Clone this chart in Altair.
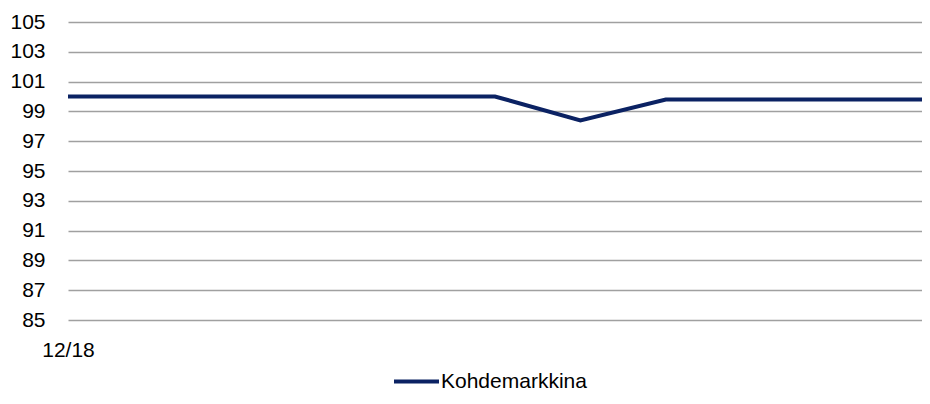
import altair as alt
import pandas as pd

months = ["12/18", "1/19", "2/19", "3/19", "4/19", "5/19", "6/19", "7/19", "8/19", "9/19", "10/19"]
values = [100.0, 100.0, 100.0, 100.0, 100.0, 100.0, 98.4, 99.8, 99.8, 99.8, 99.8]
series = ["Kohdemarkkina"] * len(months)
y_ticks = [85, 87, 89, 91, 93, 95, 97, 99, 101, 103, 105]

df = pd.DataFrame({"month": months, "value": values, "series": series})

FONT = "Liberation Sans, Arial, sans-serif"

chart = alt.Chart(df).mark_line(strokeWidth=4, color="#0b2263").encode(
    x=alt.X("month:O", sort=months,
            scale=alt.Scale(type="point", padding=0),
            axis=alt.Axis(values=["12/18"], title=None, labelAngle=0, ticks=False,
                          domain=False, grid=False, labelPadding=19,
                          labelFontSize=21, labelFont=FONT, labelColor="#000")),
    y=alt.Y("value:Q", scale=alt.Scale(domain=[85, 105], nice=False, zero=False),
            axis=alt.Axis(values=y_ticks, title=None, ticks=False, domain=False,
                          labelPadding=23, labelFontSize=21, labelFont=FONT,
                          labelColor="#000", grid=True, gridColor="#a0a0a0",
                          gridWidth=1.5)),
    color=alt.Color("series:N", scale=alt.Scale(range=["#0b2263"]),
                    legend=alt.Legend(title=None, orient="none", legendX=324, legendY=335,
                                      symbolType="stroke", symbolSize=2025,
                                      symbolStrokeWidth=4, labelFontSize=21,
                                      labelFont=FONT, labelColor="#000",
                                      labelOffset=0)),
).properties(
    width=854, height=298,
    autosize=alt.AutoSizeParams(type="none"),
    padding={"left": 60, "top": 14, "right": 0, "bottom": 72},
).configure_view(stroke=None)

chart.save("out.html", embed_options={"renderer": "svg", "actions": False})
